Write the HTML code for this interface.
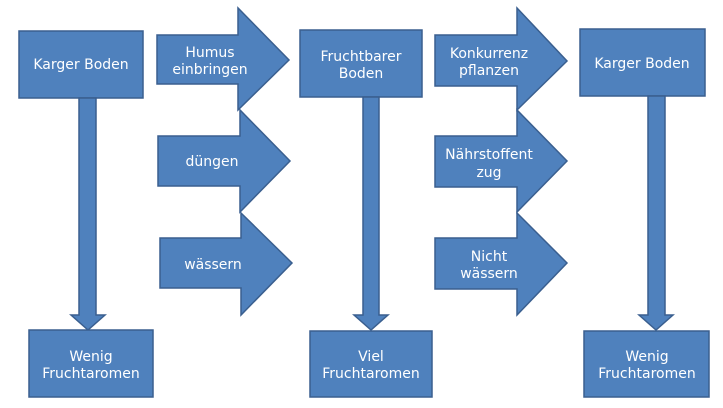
<!DOCTYPE html>
<html><head><meta charset="utf-8"><style>
html,body{margin:0;padding:0;background:#fff;width:723px;height:408px;overflow:hidden}
svg{display:block}
text{font-family:"DejaVu Sans","Liberation Sans",sans-serif;font-size:14px;fill:#fff;text-anchor:middle}
</style></head><body>
<svg width="723" height="408" viewBox="0 0 723 408">
<g fill="#4f81bd" stroke="#3a5f8f" stroke-width="1.5">
<rect x="19" y="31" width="124" height="67"/>
<polygon points="79,98 96,98 96,315 105,315 88,330 71,315 79,315"/>
<rect x="29" y="330" width="124" height="67"/>
<polygon points="157,35 238,35 238,8 289,60 238,110 238,84 157,84"/>
<polygon points="158,136 240,136 240,110 290,161 240,212 240,186 158,186"/>
<polygon points="160,238 241,238 241,213 292,263 241,315 241,288 160,288"/>
<rect x="300" y="30" width="122" height="67"/>
<polygon points="363,97 379,97 379,315 388,315 371,330 354,315 363,315"/>
<rect x="310" y="331" width="122" height="66"/>
<polygon points="435,35 517,35 517,8 567,61 517,110 517,86 435,86"/>
<polygon points="435,136 517,136 517,110 567,161 517,212 517,187 435,187"/>
<polygon points="435,238 517,238 517,213 567,263 517,315 517,289 435,289"/>
<rect x="580" y="29" width="125" height="67"/>
<polygon points="648,96 665,96 665,315 673,315 656,330 639,315 648,315"/>
<rect x="584" y="331" width="125" height="66"/>
</g>
<text x="81" y="69">Karger Boden</text>
<text x="91" y="361">Wenig</text>
<text x="91" y="378">Fruchtaromen</text>
<text x="210" y="57">Humus</text>
<text x="210" y="74">einbringen</text>
<text x="212" y="166">düngen</text>
<text x="213" y="269">wässern</text>
<text x="361" y="61">Fruchtbarer</text>
<text x="361" y="78">Boden</text>
<text x="371" y="361">Viel</text>
<text x="371" y="378">Fruchtaromen</text>
<text x="489" y="58">Konkurrenz</text>
<text x="489" y="75">pflanzen</text>
<text x="489" y="159">Nährstoffent</text>
<text x="489" y="177">zug</text>
<text x="489" y="261">Nicht</text>
<text x="489" y="278">wässern</text>
<text x="642" y="68">Karger Boden</text>
<text x="647" y="361">Wenig</text>
<text x="647" y="378">Fruchtaromen</text>
</svg>
</body></html>
